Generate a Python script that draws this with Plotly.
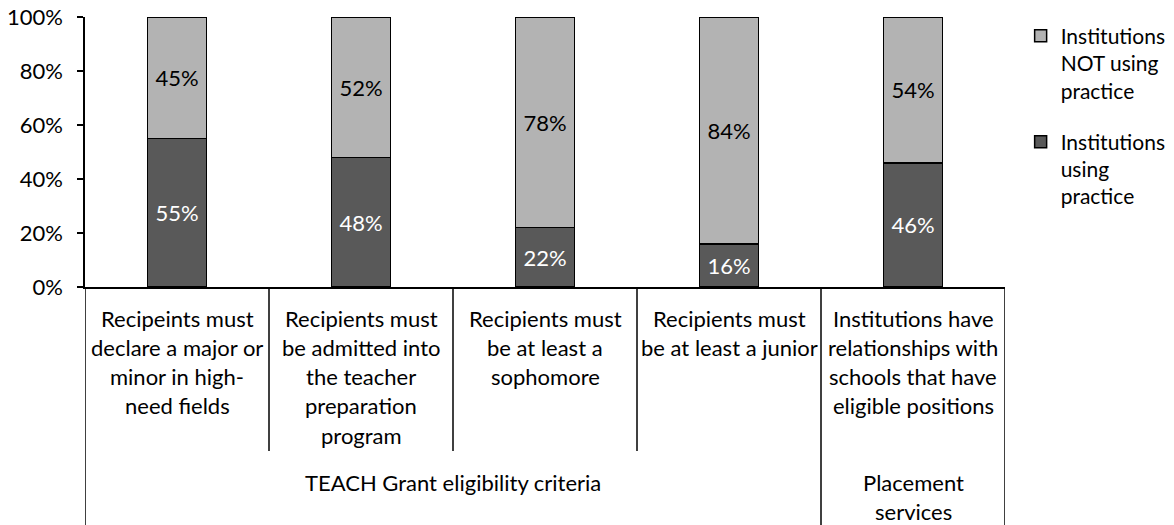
import plotly.graph_objects as go

categories = [
    "Recipeints must declare a major or minor in high-need fields",
    "Recipients must be admitted into the teacher preparation program",
    "Recipients must be at least a sophomore",
    "Recipients must be at least a junior",
    "Institutions have relationships with schools that have eligible positions",
]
category_lines = [
    ["Recipeints must", "declare a major or", "minor in high-", "need fields"],
    ["Recipients must", "be admitted into", "the teacher", "preparation", "program"],
    ["Recipients must", "be at least a", "sophomore"],
    ["Recipients must", "be at least a junior"],
    ["Institutions have", "relationships with", "schools that have", "eligible positions"],
]
groups = [
    ("TEACH Grant eligibility criteria", [0, 1, 2, 3]),
    ("Placement services", [4]),
]
group_lines = {"TEACH Grant eligibility criteria": ["TEACH Grant eligibility criteria"],
               "Placement services": ["Placement", "services"]}

using = [55, 48, 22, 16, 46]
not_using = [45, 52, 78, 84, 54]

FONT = "Lato"
FS = 22
x_idx = list(range(len(categories)))

fig = go.Figure()
fig.add_trace(go.Bar(
    x=x_idx, y=[v / 100 for v in using], name="Institutions<br>using<br>practice",
    marker=dict(color="#595959", line=dict(color="black", width=1.5)),
    text=[f"{v}%" for v in using], textposition="inside", insidetextanchor="middle",
    textfont=dict(color="white", size=FS, family=FONT), width=0.32,
    legendgroup="a", legendrank=2,
))
fig.add_trace(go.Bar(
    x=x_idx, y=[v / 100 for v in not_using], name="Institutions<br>NOT using<br>practice",
    marker=dict(color="#b3b3b3", line=dict(color="black", width=1.5)),
    text=[f"{v}%" for v in not_using], textposition="inside", insidetextanchor="middle",
    textfont=dict(color="black", size=FS, family=FONT), width=0.32,
    legendgroup="b", legendrank=1,
))

shapes = []
annotations = []
outer = {-0.5, 3.5, 4.5}
for k in range(len(categories) + 1):
    xb = k - 0.5
    depth = 240 if xb in outer else 164
    shapes.append(dict(type="line", xref="x", yref="paper", ysizemode="pixel", yanchor=0,
                       x0=xb, x1=xb, y0=0, y1=-depth, line=dict(color="black", width=1.5)))

for i, lines in enumerate(category_lines):
    for j, ln in enumerate(lines):
        annotations.append(dict(x=i, y=0, xref="x", yref="paper", text=ln, showarrow=False,
                                yanchor="middle", yshift=-(31 + j * 29.3),
                                font=dict(family=FONT, size=FS, color="black")))
for name, idxs in groups:
    cx = sum(idxs) / len(idxs)
    for j, ln in enumerate(group_lines[name]):
        annotations.append(dict(x=cx, y=0, xref="x", yref="paper", text=ln, showarrow=False,
                                yanchor="middle", yshift=-(195 + j * 29.3),
                                font=dict(family=FONT, size=FS, color="black")))

fig.update_layout(
    barmode="stack",
    width=1174, height=525,
    margin=dict(l=85, r=169, t=17, b=238, autoexpand=False),
    paper_bgcolor="white", plot_bgcolor="white",
    font=dict(family=FONT, size=FS, color="black"),
    showlegend=True,
    legend=dict(x=1.017, y=1.005, xanchor="left", yanchor="top", traceorder="grouped",
                tracegroupgap=21, itemwidth=30, font=dict(family=FONT, size=21, color="black"),
                valign="top", bgcolor="rgba(0,0,0,0)"),
    shapes=shapes,
    annotations=annotations,
    xaxis=dict(range=[-0.5, 4.5], showticklabels=False, ticks="", showgrid=False,
               showline=True, linecolor="black", linewidth=1.5, zeroline=False, fixedrange=True,
               automargin=False),
    yaxis=dict(range=[0, 1], tickvals=[0, 0.2, 0.4, 0.6, 0.8, 1.0], tickformat=".0%",
               ticks="outside", ticklen=6, tickcolor="black", tickwidth=1.5,
               showline=True, linecolor="black", linewidth=1.5, showgrid=False, zeroline=False,
               ticklabelstandoff=10, automargin=False),
    uniformtext=dict(minsize=FS, mode="show"),
)

fig.write_html("out.html", config={"displayModeBar": False},
               post_script="document.body.style.margin='0';document.body.style.overflow='hidden';")
